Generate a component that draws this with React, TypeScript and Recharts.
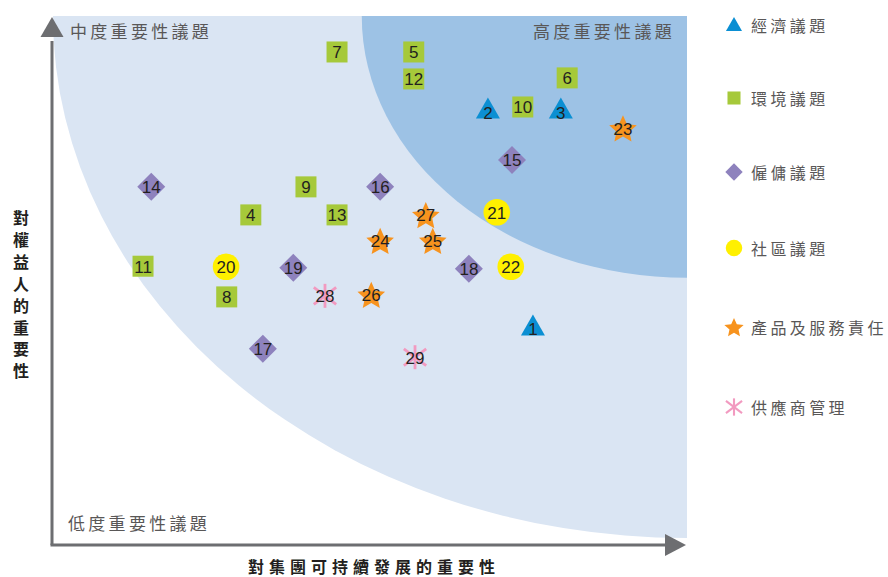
import React from "react";
import { ScatterChart, Scatter, XAxis, YAxis, ReferenceArea } from "recharts";

// issue number, x = importance to the group, y = importance to stakeholders (0-100)
const ECONOMY = [
  { id: 1, x: 75.7, y: 41.6 },
  { id: 2, x: 68.6, y: 82.6 },
  { id: 3, x: 80.1, y: 82.6 },
];
const ENVIRONMENT = [
  { id: 4, x: 31.2, y: 62.4 },
  { id: 5, x: 56.9, y: 93.2 },
  { id: 6, x: 81.1, y: 88.3 },
  { id: 7, x: 44.8, y: 93.2 },
  { id: 8, x: 27.4, y: 46.9 },
  { id: 9, x: 39.9, y: 67.7 },
  { id: 10, x: 74.1, y: 82.8 },
  { id: 11, x: 14.2, y: 52.7 },
  { id: 12, x: 56.9, y: 88.1 },
  { id: 13, x: 44.8, y: 62.4 },
];
const EMPLOYMENT = [
  { id: 14, x: 15.5, y: 67.7 },
  { id: 15, x: 72.4, y: 72.8 },
  { id: 16, x: 51.6, y: 67.7 },
  { id: 17, x: 33.1, y: 37.1 },
  { id: 18, x: 65.6, y: 52.2 },
  { id: 19, x: 37.9, y: 52.4 },
];
const COMMUNITY = [
  { id: 20, x: 27.3, y: 52.6 },
  { id: 21, x: 70.0, y: 62.9 },
  { id: 22, x: 72.2, y: 52.6 },
];
const PRODUCT = [
  { id: 23, x: 89.9, y: 78.8 },
  { id: 24, x: 51.6, y: 57.5 },
  { id: 25, x: 59.9, y: 57.5 },
  { id: 26, x: 50.2, y: 47.3 },
  { id: 27, x: 58.8, y: 62.4 },
];
const SUPPLIER = [
  { id: 28, x: 42.9, y: 47.1 },
  { id: 29, x: 57.1, y: 35.5 },
];

const ZONE_LABELS = ["中度重要性議題", "高度重要性議題", "低度重要性議題"];
const X_TITLE = "對集團可持續發展的重要性";
const Y_TITLE = "對權益人的重要性";

type Kind = "triangle" | "square" | "diamond" | "circle" | "star" | "asterisk";

const SERIES: { name: string; kind: Kind; color: string; data: { id: number; x: number; y: number }[] }[] = [
  { name: "經濟議題", kind: "triangle", color: "#0b8fd3", data: ECONOMY },
  { name: "環境議題", kind: "square", color: "#a6c93a", data: ENVIRONMENT },
  { name: "僱傭議題", kind: "diamond", color: "#8e82bd", data: EMPLOYMENT },
  { name: "社區議題", kind: "circle", color: "#fff000", data: COMMUNITY },
  { name: "產品及服務責任", kind: "star", color: "#f7931e", data: PRODUCT },
  { name: "供應商管理", kind: "asterisk", color: "#f29ac0", data: SUPPLIER },
];

// vertical centre of each legend row, in px
const LEGEND_ROW_Y = [25, 98, 172, 248, 327, 407];

const GREY_TEXT = "#595757";
const AXIS_GREY = "#6d6e71";
const CJK = '"Noto Sans CJK TC", "Noto Sans CJK SC", sans-serif';

function glyph(kind: Kind, color: string, cx: number, cy: number, s: number) {
  switch (kind) {
    case "triangle":
      return (
        <polygon
          points={`${cx},${cy - 10.5 * s} ${cx + 12 * s},${cy + 10.5 * s} ${cx - 12 * s},${cy + 10.5 * s}`}
          fill={color}
        />
      );
    case "square":
      return <rect x={cx - 10.5 * s} y={cy - 10.5 * s} width={21 * s} height={21 * s} fill={color} />;
    case "diamond":
      return (
        <polygon
          points={`${cx},${cy - 14 * s} ${cx + 14 * s},${cy} ${cx},${cy + 14 * s} ${cx - 14 * s},${cy}`}
          fill={color}
        />
      );
    case "circle":
      return <circle cx={cx} cy={cy} r={13.3 * s} fill={color} />;
    case "star": {
      const pts: string[] = [];
      for (let i = 0; i < 10; i++) {
        const r = (i % 2 === 0 ? 14.5 : 6.8) * s;
        const a = -Math.PI / 2 + (i * Math.PI) / 5;
        pts.push(`${cx + r * Math.cos(a)},${cy + 1.5 * s + r * Math.sin(a)}`);
      }
      return <polygon points={pts.join(" ")} fill={color} />;
    }
    case "asterisk": {
      const spokes = [
        { deg: 90, r: 12 * s },
        { deg: 37, r: 14 * s },
        { deg: 143, r: 14 * s },
      ];
      return (
        <g stroke={color} strokeWidth={2.8 * Math.max(s, 0.75)}>
          {spokes.map(({ deg, r }) => {
            const a = (deg * Math.PI) / 180;
            return (
              <line
                key={deg}
                x1={cx - r * Math.cos(a)}
                y1={cy - r * Math.sin(a)}
                x2={cx + r * Math.cos(a)}
                y2={cy + r * Math.sin(a)}
              />
            );
          })}
        </g>
      );
    }
  }
}

const makeShape = (kind: Kind, color: string) => (props: any) => {
  const { cx, cy, payload } = props;
  if (cx == null || cy == null) return <g />;
  const dy = kind === "triangle" ? 5 : 1;
  return (
    <g>
      {glyph(kind, color, cx, cy, 1)}
      <text
        x={cx}
        y={cy + dy}
        textAnchor="middle"
        dominantBaseline="central"
        fontSize={17}
        fontFamily='"Liberation Sans", Arial, sans-serif'
        fill="#231f20"
      >
        {payload.id}
      </text>
    </g>
  );
};

// background zones, zone labels and the two arrowed axes, drawn against the plot rectangle
const renderZones = (props: any) => {
  const { x, y, width: w, height: h } = props;
  const right = x + w;
  const lightRx = w;
  const lightRy = h * 0.987;
  const darkRx = w * 0.513;
  const darkRy = h * 0.495;
  const labelStyle = { fontSize: 17, fontFamily: CJK, fill: GREY_TEXT, letterSpacing: 3.3 };
  return (
    <g>
      <path
        d={`M${right},${y} L${right - lightRx},${y} A${lightRx} ${lightRy} 0 0 0 ${right},${y + lightRy} Z`}
        fill="#dae5f3"
      />
      <path
        d={`M${right},${y} L${right - darkRx},${y} A${darkRx} ${darkRy} 0 0 0 ${right},${y + darkRy} Z`}
        fill="#9dc2e5"
      />
      <text x={x + 17} y={y + 14} dominantBaseline="central" {...labelStyle}>
        {ZONE_LABELS[0]}
      </text>
      <text x={right - 12} y={y + 14} dominantBaseline="central" textAnchor="end" {...labelStyle}>
        {ZONE_LABELS[1]}
      </text>
      <text x={x + 15} y={y + h - 23} dominantBaseline="central" {...labelStyle}>
        {ZONE_LABELS[2]}
      </text>
      <line x1={x - 1} y1={y + h} x2={x - 1} y2={y + 25} stroke={AXIS_GREY} strokeWidth={3} />
      <polygon points={`${x - 1},${y + 1} ${x + 10.5},${y + 21} ${x - 12.5},${y + 21}`} fill={AXIS_GREY} />
      <line x1={x - 2.5} y1={y + h} x2={right - 15} y2={y + h} stroke={AXIS_GREY} strokeWidth={3} />
      <polygon
        points={`${right - 1},${y + h} ${right - 22},${y + h - 11} ${right - 22},${y + h + 11}`}
        fill={AXIS_GREY}
      />
    </g>
  );
};

const Legend6: React.FC = () => (
  <div>
    {SERIES.map((s, i) => {
      const scale = s.kind === "star" ? 0.7 : s.kind === "asterisk" ? 0.72 : s.kind === "triangle" ? 0.67 : 0.62;
      return (
        <div
          key={s.name}
          style={{
            position: "absolute",
            left: 722,
            top: LEGEND_ROW_Y[i] - 12,
            display: "flex",
            alignItems: "center",
            height: 24,
          }}
        >
          <svg width={24} height={24} style={{ overflow: "visible" }}>
            {glyph(s.kind, s.color, 12, s.kind === "triangle" ? 11 : 12, scale)}
          </svg>
          <span
            style={{
              marginLeft: 5,
              fontFamily: CJK,
              fontSize: 16,
              letterSpacing: 3.4,
              color: GREY_TEXT,
              whiteSpace: "nowrap",
            }}
          >
            {s.name}
          </span>
        </div>
      );
    })}
  </div>
);

export default function App() {
  return (
    <div style={{ position: "absolute", left: 0, top: 0, width: 888, height: 577, background: "#fff" }}>
      <ScatterChart width={888} height={577} margin={{ top: 16, right: 201, bottom: 32, left: 53 }}>
        <XAxis type="number" dataKey="x" domain={[0, 100]} hide height={0} />
        <YAxis type="number" dataKey="y" domain={[0, 100]} hide width={0} />
        <ReferenceArea x1={0} x2={100} y1={0} y2={100} ifOverflow="visible" shape={renderZones} />
        {SERIES.map((s) => (
          <Scatter
            key={s.name}
            name={s.name}
            data={s.data}
            fill={s.color}
            shape={makeShape(s.kind, s.color)}
            isAnimationActive={false}
          />
        ))}
        <text
          x={374}
          y={566}
          textAnchor="middle"
          dominantBaseline="central"
          fontSize={16}
          fontWeight="bold"
          letterSpacing={5}
          fontFamily={CJK}
          fill="#231f20"
        >
          {X_TITLE}
        </text>
        {Y_TITLE.split("").map((ch, i) => (
          <text
            key={i}
            x={21}
            y={217 + i * 21.9}
            textAnchor="middle"
            dominantBaseline="central"
            fontSize={16}
            fontWeight="bold"
            fontFamily={CJK}
            fill="#231f20"
          >
            {ch}
          </text>
        ))}
      </ScatterChart>
      <Legend6 />
    </div>
  );
}
